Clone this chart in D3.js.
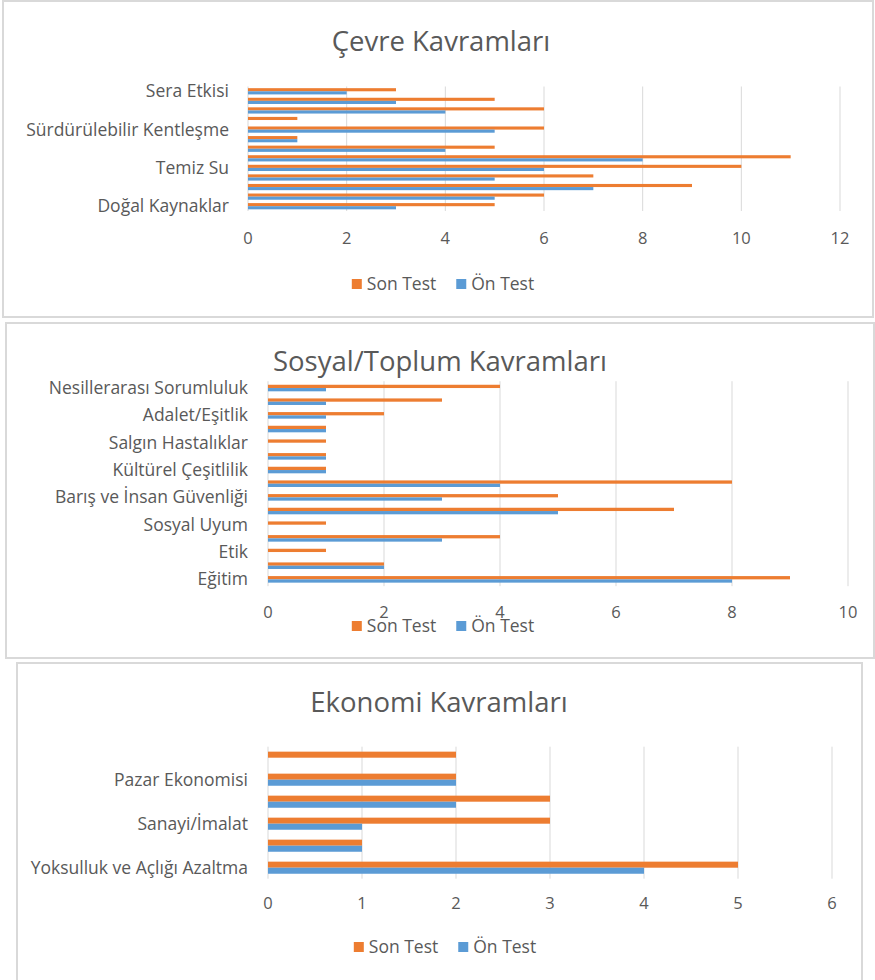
<!DOCTYPE html>
<html>
<head>
<meta charset="utf-8">
<script src="https://cdn.jsdelivr.net/npm/d3@7"></script>
<style>
  html, body { margin: 0; padding: 0; background: #fff; }
  svg { display: block; }
  text { font-family: "Open Sans", "Noto Sans", sans-serif; fill: #595959; }
</style>
</head>
<body>
<svg id="chart" width="875" height="980"></svg>
<script>
// ---------- DATA (categories listed bottom-first, as in the source sheet) ----------
const cevreCategories = ["Doğal Kaynaklar", "Su Kaynakları", "Hava Kirliliği", "Toprak Kirliliği",
  "Temiz Su", "Yenilenebilir Enerji", "İklim Değişikliği", "Biyolojik Çeşitlilik",
  "Sürdürülebilir Kentleşme", "Atık Yönetimi", "Geri Dönüşüm", "Ekolojik Ayak İzi", "Sera Etkisi"];
const cevreSonTest = [5, 6, 9, 7, 10, 11, 5, 1, 6, 1, 6, 5, 3];
const cevreOnTest  = [3, 5, 7, 5, 6, 8, 4, 1, 5, 0, 4, 3, 2];
const cevreTicks = [0, 2, 4, 6, 8, 10, 12];

const sosyalCategories = ["Eğitim", "Sağlık", "Etik", "Demokrasi", "Sosyal Uyum", "Toplumsal Cinsiyet",
  "Barış ve İnsan Güvenliği", "İnsan Hakları", "Kültürel Çeşitlilik", "Yurttaşlık",
  "Salgın Hastalıklar", "Hoşgörü", "Adalet/Eşitlik", "Kültürel Miras", "Nesillerarası Sorumluluk"];
const sosyalSonTest = [9, 2, 1, 4, 1, 7, 5, 8, 1, 1, 1, 1, 2, 3, 4];
const sosyalOnTest  = [8, 2, 0, 3, 0, 5, 3, 4, 1, 1, 0, 1, 1, 1, 1];
const sosyalTicks = [0, 2, 4, 6, 8, 10];

const ekonomiCategories = ["Yoksulluk ve Açlığı Azaltma", "Kurumsal Sorumluluk", "Sanayi/İmalat",
  "Sürdürülebilir Tüketim", "Pazar Ekonomisi", "Ekonomik Büyüme"];
const ekonomiSonTest = [5, 1, 3, 3, 2, 2];
const ekonomiOnTest  = [4, 1, 1, 2, 2, 0];
const ekonomiTicks = [0, 1, 2, 3, 4, 5, 6];

const seriesNames = ["Son Test", "Ön Test"];
const seriesColors = ["#ED7D31", "#5B9BD5"];

// ---------- DRAWING ----------
const svg = d3.select("#chart");

function drawPanel(cfg) {
  const g = svg.append("g");
  // frame
  g.append("rect")
    .attr("x", cfg.frame[0]).attr("y", cfg.frame[1])
    .attr("width", cfg.frame[2]).attr("height", cfg.frame[3])
    .attr("fill", "#fff").attr("stroke", "#d9d9d9").attr("stroke-width", 2);

  // title
  g.append("text")
    .attr("x", cfg.titleX).attr("y", cfg.titleY)
    .attr("text-anchor", "middle")
    .style("font-size", "27.5px")
    .text(cfg.title);

  const x = d3.scaleLinear().domain([cfg.ticks[0], cfg.ticks[cfg.ticks.length - 1]]).range(cfg.xRange);
  const y = d3.scaleBand()
    .domain(cfg.categories.slice().reverse())
    .range(cfg.yRange)
    .paddingInner(cfg.pad).paddingOuter(cfg.pad / 2);
  const ySub = d3.scaleBand().domain(seriesNames).range([0, y.bandwidth()]);

  // gridlines
  g.append("g").selectAll("line").data(cfg.ticks).join("line")
    .attr("x1", d => x(d)).attr("x2", d => x(d))
    .attr("y1", cfg.yRange[0]).attr("y2", cfg.yRange[1])
    .attr("stroke", "#d9d9d9").attr("stroke-width", 1);

  // bars
  const rows = cfg.categories.map((c, i) => ({ cat: c, vals: [cfg.son[i], cfg.on[i]] }));
  const grp = g.append("g").selectAll("g").data(rows).join("g")
    .attr("transform", d => `translate(0,${y(d.cat)})`);
  grp.selectAll("rect").data(d => d.vals.map((v, k) => ({ v, k })).filter(o => o.v > 0)).join("rect")
    .attr("x", x(0))
    .attr("y", d => ySub(seriesNames[d.k]))
    .attr("width", d => x(d.v) - x(0))
    .attr("height", ySub.bandwidth())
    .attr("fill", d => seriesColors[d.k]);

  // category labels (every n-th, starting from the bottom one)
  g.append("g").selectAll("text")
    .data(cfg.categories.filter((c, i) => i % cfg.labelEvery === 0)).join("text")
    .attr("x", cfg.labelX)
    .attr("y", d => y(d) + y.bandwidth() / 2)
    .attr("dy", "0.35em")
    .attr("text-anchor", "end")
    .style("font-size", "17.5px")
    .text(d => d);

  // x tick labels
  g.append("g").selectAll("text").data(cfg.ticks).join("text")
    .attr("x", d => x(d)).attr("y", cfg.tickY)
    .attr("text-anchor", "middle")
    .style("font-size", "16.5px")
    .text(d => d);

  // legend
  const leg = g.append("g");
  const items = leg.selectAll("g").data(seriesNames).join("g");
  items.append("rect").attr("width", 10).attr("height", 10).attr("y", -5)
    .attr("fill", (d, i) => seriesColors[i]);
  items.append("text").attr("x", 15).attr("dy", "0.35em")
    .style("font-size", "17.5px").text(d => d);
  let cx = 0;
  items.each(function () {
    d3.select(this).attr("transform", `translate(${cx},0)`);
    cx += this.getBBox().width + 20;
  });
  const total = cx - 20;
  leg.attr("transform", `translate(${cfg.legendCX - total / 2},${cfg.legendY})`);
}

drawPanel({
  frame: [3, 1, 870, 316], title: "Çevre Kavramları", titleX: 441, titleY: 51,
  categories: cevreCategories, son: cevreSonTest, on: cevreOnTest, ticks: cevreTicks,
  xRange: [248, 840], yRange: [86.5, 211], pad: 0.35, labelEvery: 4, labelX: 229,
  tickY: 244, legendCX: 443, legendY: 284
});

drawPanel({
  frame: [6, 323, 868, 335], title: "Sosyal/Toplum Kavramları", titleX: 440, titleY: 371,
  categories: sosyalCategories, son: sosyalSonTest, on: sosyalOnTest, ticks: sosyalTicks,
  xRange: [268, 848], yRange: [381.2, 586.2], pad: 0.52, labelEvery: 2, labelX: 248,
  tickY: 618, legendCX: 443, legendY: 626
});

drawPanel({
  frame: [17, 663, 845, 330], title: "Ekonomi Kavramları", titleX: 439, titleY: 712,
  categories: ekonomiCategories, son: ekonomiSonTest, on: ekonomiOnTest, ticks: ekonomiTicks,
  xRange: [268, 832], yRange: [746.7, 878.7], pad: 0.45, labelEvery: 2, labelX: 248,
  tickY: 909, legendCX: 445, legendY: 947
});
</script>
</body>
</html>
